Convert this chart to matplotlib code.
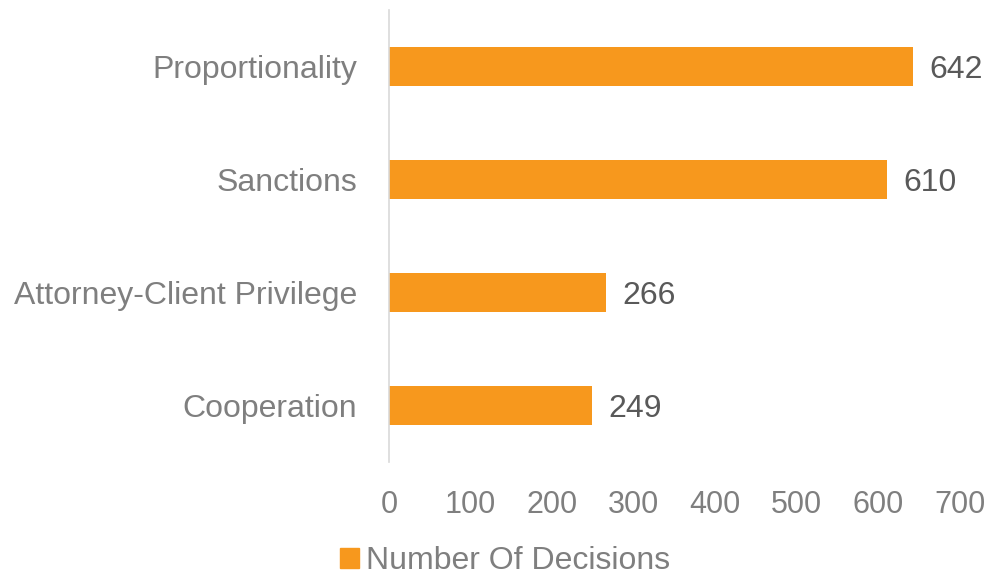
import matplotlib.pyplot as plt
from matplotlib.patches import Patch

plt.rcParams['font.family'] = ['Liberation Sans', 'DejaVu Sans']

categories = ['Proportionality', 'Sanctions', 'Attorney-Client Privilege', 'Cooperation']
decisions = [642, 610, 266, 249]
xticks = [0, 100, 200, 300, 400, 500, 600, 700]
series_name = 'Number Of Decisions'

bar_color = '#F7981D'
label_gray = '#7F7F7F'
value_gray = '#595959'

fig = plt.figure(figsize=(9.92, 5.75), dpi=100)
ax = fig.add_axes([389 / 992, 1 - 462 / 575, (960 - 389) / 992, (462 - 10) / 575])

ypos = list(range(len(categories)))[::-1]
bars = ax.barh(ypos, decisions, height=0.35, color=bar_color)

for y, v in zip(ypos, decisions):
    ax.text(v + 20, y, str(v), va='center_baseline', ha='left', fontsize=23, color=value_gray)

ax.set_xlim(0, 700)
ax.set_ylim(-0.5, 3.5)
ax.set_xticks(xticks)
ax.set_xticklabels([str(t) for t in xticks], fontsize=22, color=label_gray)
ax.set_yticks(ypos)
ax.set_yticklabels(categories, fontsize=23, color=label_gray)
ax.tick_params(axis='both', length=0)
ax.tick_params(axis='x', pad=20)
ax.tick_params(axis='y', pad=23)

for side in ['top', 'right', 'bottom']:
    ax.spines[side].set_visible(False)
ax.spines['left'].set_color('#D9D9D9')
ax.spines['left'].set_linewidth(1.2)

fig.legend(handles=[Patch(color=bar_color, label=series_name)], loc='center',
           bbox_to_anchor=(505 / 992, 1 - 561 / 575), frameon=False, fontsize=23,
           labelcolor=label_gray, handlelength=0.6, handleheight=0.6, handletextpad=0.2)

fig.savefig('out.png', dpi=100)
